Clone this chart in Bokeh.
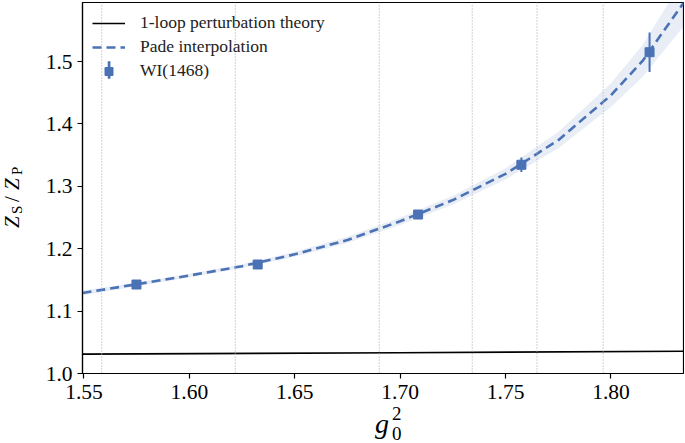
from bokeh.plotting import figure
from bokeh.models import Range1d, Span, Legend, LegendItem, FixedTicker, BoxAnnotation, Div
from bokeh.layouts import column
from bokeh.embed import file_html
from bokeh.resources import INLINE

# ---------------- data ----------------
x_ticks = [1.55, 1.60, 1.65, 1.70, 1.75, 1.80]
x_tick_labels = ["1.55", "1.60", "1.65", "1.70", "1.75", "1.80"]
y_ticks = [1.0, 1.1, 1.2, 1.3, 1.4, 1.5]
y_tick_labels = ["1.0", "1.1", "1.2", "1.3", "1.4", "1.5"]

vline_g2 = [1.5584, 1.6218, 1.6901, 1.7342, 1.7649, 1.7963]

oneloop_g2 = [1.5493, 1.70, 1.8344]
oneloop_z = [1.0310, 1.0333, 1.0357]

pade_g2 = [1.5493, 1.575, 1.60, 1.625, 1.65, 1.675, 1.70, 1.725, 1.75, 1.775, 1.80, 1.815, 1.8344]
pade_z = [1.129, 1.143, 1.157, 1.172, 1.191, 1.214, 1.244, 1.278, 1.320, 1.374, 1.446, 1.501, 1.594]
pade_lo = [1.125, 1.140, 1.154, 1.169, 1.187, 1.209, 1.238, 1.271, 1.311, 1.361, 1.427, 1.475, 1.556]
pade_hi = [1.133, 1.146, 1.160, 1.175, 1.195, 1.219, 1.250, 1.285, 1.329, 1.387, 1.465, 1.527, 1.632]

wi_g2 = [1.5749, 1.6324, 1.7085, 1.7575, 1.8183]
wi_z = [1.1426, 1.1747, 1.2548, 1.3345, 1.5149]
wi_err = [0.003, 0.004, 0.005, 0.0115, 0.0316]

label_1loop = "1-loop perturbation theory"
label_pade = "Pade interpolation"
label_wi = "WI(1468)"

BLUE = "#4a72b5"
SERIF = "Liberation Serif"

X0, X1 = 1.5493, 1.8344
Y0, Y1 = 1.0, 1.5946
W, H = 684, 442

p = figure(width=W, height=H, output_backend="svg", toolbar_location=None,
           x_range=Range1d(X0, X1), y_range=Range1d(Y0, Y1),
           min_border_left=82, min_border_right=1, min_border_top=2, min_border_bottom=69,
           background_fill_color="white", border_fill_color="white")

p.xgrid.visible = False
p.ygrid.visible = False
p.outline_line_color = "black"
p.outline_line_width = 1.2

for ax in (p.xaxis, p.yaxis):
    ax.axis_line_color = "black"
    ax.axis_line_width = 1.2
    ax.major_tick_line_color = "black"
    ax.major_tick_line_width = 1.2
    ax.major_tick_out = 5
    ax.major_tick_in = 0
    ax.minor_tick_line_color = None
    ax.major_label_text_font = SERIF
    ax.major_label_text_font_size = "21.5px"
    ax.major_label_text_color = "black"

p.xaxis.ticker = FixedTicker(ticks=x_ticks)
p.xaxis.major_label_overrides = {t: l for t, l in zip(x_ticks, x_tick_labels)}
p.xaxis.major_label_standoff = 6
p.yaxis.ticker = FixedTicker(ticks=y_ticks)
p.yaxis.major_label_overrides = {t: l for t, l in zip(y_ticks, y_tick_labels)}
p.yaxis.major_label_standoff = 5

# vertical dotted lines
for v in vline_g2:
    p.add_layout(Span(location=v, dimension="height", line_color="#b5b5b5",
                      line_width=1.2, line_dash="1 2"))

# uncertainty band
p.varea(x=pade_g2, y1=pade_lo, y2=pade_hi, fill_color=BLUE, fill_alpha=0.12)

r_1loop = p.line(oneloop_g2, oneloop_z, line_color="black", line_width=1.6)
r_pade = p.line(pade_g2, pade_z, line_color=BLUE, line_width=2.6, line_dash="9 5")

wi_lo = [z - e for z, e in zip(wi_z, wi_err)]
wi_hi = [z + e for z, e in zip(wi_z, wi_err)]
p.segment(x0=wi_g2, y0=wi_lo, x1=wi_g2, y1=wi_hi, line_color=BLUE, line_width=2)
r_sq = p.scatter(wi_g2, wi_z, marker="square", size=9, fill_color=BLUE, line_color=BLUE)

legend = Legend(items=[
    LegendItem(label=label_1loop, renderers=[r_1loop]),
    LegendItem(label=label_pade, renderers=[r_pade]),
    LegendItem(label=label_wi, renderers=[r_sq]),
], location="top_left")
legend.label_text_font = SERIF
legend.label_text_font_size = "17.5px"
legend.label_text_color = "#222222"
legend.glyph_width = 33
legend.glyph_height = 20
legend.label_height = 20
legend.spacing = 3
legend.padding = 7
legend.margin = 3
legend.label_standoff = 15
legend.border_line_alpha = 0
legend.background_fill_alpha = 0
p.add_layout(legend)

# pixel -> data helpers (frame: 1.55 at x=83.5px, 2108 px/unit; 1.0 at y=373px, 624 px/unit)
def dx(px):
    return 1.55 + (px - 83.5) / 2108.0

def dy(py):
    return 1.0 + (373.0 - py) / 624.0

# vertical error-bar stroke of the WI legend symbol
p.add_layout(BoxAnnotation(left=dx(107.5), right=dx(109.7), top=dy(61), bottom=dy(78),
                           fill_color=BLUE, fill_alpha=1.0, line_color=BLUE, line_alpha=1.0,
                           line_width=0.5, level="overlay"))

# axis titles as real HTML text in an overlay
FONT = "font-family:'Liberation Serif',serif;color:#000;line-height:1;white-space:nowrap;position:absolute;"

def span(txt, left, top, size, italic=False):
    st = "font-style:italic;" if italic else ""
    return f'<span style="{FONT}{st}font-size:{size}px;left:{left}px;top:{top}px;">{txt}</span>'

ylab = (
    '<div style="position:absolute;left:2px;top:228px;width:70px;height:21px;'
    'transform-origin:0 0;transform:rotate(-90deg);">'
    + span("Z", 0, 0, 21, True)
    + span("S", 14, 8, 15)
    + span("/", 26, 0, 21)
    + span("Z", 38, 0, 21, True)
    + span("P", 53, 8, 15)
    + "</div>"
)
xlab = span("g", 375, 409.5, 28, True) + span("2", 392, 404, 19) + span("0", 392, 424, 19)

overlay = Div(text=f'<div style="position:relative;width:{W}px;height:{H}px;">{ylab}{xlab}</div>',
              width=W, height=H, margin=(-H, 0, 0, 0))

root = column(p, overlay, spacing=0)

open("out.html", "w").write(file_html(root, INLINE))
